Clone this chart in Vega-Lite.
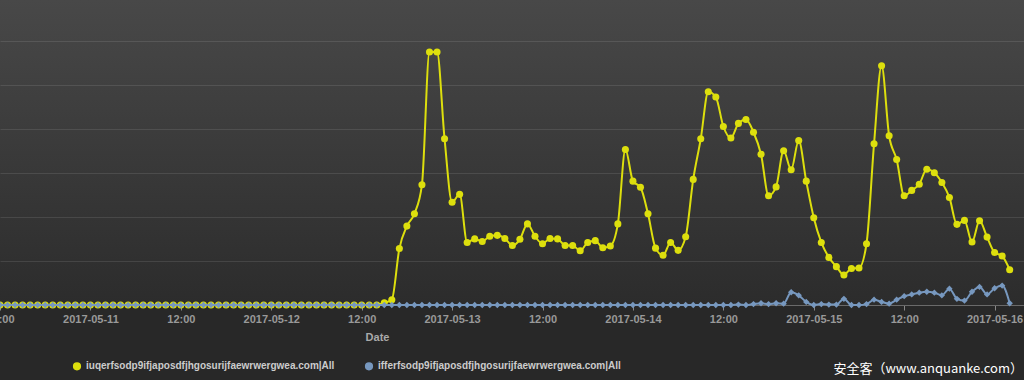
{
"$schema": "https://vega.github.io/schema/vega-lite/v6.json",
"width": 1024,
"height": 305,
"autosize": {"type": "none"},
"padding": {"left": 0, "top": 0, "right": 0, "bottom": 75},
"background": "#282828",
"config": {
  "view": {"stroke": null, "fill": {"gradient": "linear", "x1": 0, "y1": 0, "x2": 0, "y2": 1, "stops": [{"offset": 0, "color": "#484848"}, {"offset": 1, "color": "#2c2c2c"}]}}
},
"title": {"text": "安全客（www.anquanke.com）", "orient": "bottom", "anchor": "end", "font": "Noto Sans CJK SC", "fontSize": 13, "fontWeight": "normal", "color": "#ffffff", "offset": -10, "dx": -1},
"data": {"values": [
{"t":"2017-05-10T12:00Z","a":0,"b":0},{"t":"2017-05-10T13:00Z","a":0,"b":0},{"t":"2017-05-10T14:00Z","a":0,"b":0},{"t":"2017-05-10T15:00Z","a":0,"b":0},
{"t":"2017-05-10T16:00Z","a":0,"b":0},{"t":"2017-05-10T17:00Z","a":0,"b":0},{"t":"2017-05-10T18:00Z","a":0,"b":0},{"t":"2017-05-10T19:00Z","a":0,"b":0},
{"t":"2017-05-10T20:00Z","a":0,"b":0},{"t":"2017-05-10T21:00Z","a":0,"b":0},{"t":"2017-05-10T22:00Z","a":0,"b":0},{"t":"2017-05-10T23:00Z","a":0,"b":0},
{"t":"2017-05-11T00:00Z","a":0,"b":0},{"t":"2017-05-11T01:00Z","a":0,"b":0},{"t":"2017-05-11T02:00Z","a":0,"b":0},{"t":"2017-05-11T03:00Z","a":0,"b":0},
{"t":"2017-05-11T04:00Z","a":0,"b":0},{"t":"2017-05-11T05:00Z","a":0,"b":0},{"t":"2017-05-11T06:00Z","a":0,"b":0},{"t":"2017-05-11T07:00Z","a":0,"b":0},
{"t":"2017-05-11T08:00Z","a":0,"b":0},{"t":"2017-05-11T09:00Z","a":0,"b":0},{"t":"2017-05-11T10:00Z","a":0,"b":0},{"t":"2017-05-11T11:00Z","a":0,"b":0},
{"t":"2017-05-11T12:00Z","a":0,"b":0},{"t":"2017-05-11T13:00Z","a":0,"b":0},{"t":"2017-05-11T14:00Z","a":0,"b":0},{"t":"2017-05-11T15:00Z","a":0,"b":0},
{"t":"2017-05-11T16:00Z","a":0,"b":0},{"t":"2017-05-11T17:00Z","a":0,"b":0},{"t":"2017-05-11T18:00Z","a":0,"b":0},{"t":"2017-05-11T19:00Z","a":0,"b":0},
{"t":"2017-05-11T20:00Z","a":0,"b":0},{"t":"2017-05-11T21:00Z","a":0,"b":0},{"t":"2017-05-11T22:00Z","a":0,"b":0},{"t":"2017-05-11T23:00Z","a":0,"b":0},
{"t":"2017-05-12T00:00Z","a":0,"b":0},{"t":"2017-05-12T01:00Z","a":0,"b":0},{"t":"2017-05-12T02:00Z","a":0,"b":0},{"t":"2017-05-12T03:00Z","a":0,"b":0},
{"t":"2017-05-12T04:00Z","a":0,"b":0},{"t":"2017-05-12T05:00Z","a":0,"b":0},{"t":"2017-05-12T06:00Z","a":0,"b":0},{"t":"2017-05-12T07:00Z","a":0,"b":0},
{"t":"2017-05-12T08:00Z","a":0,"b":0},{"t":"2017-05-12T09:00Z","a":0,"b":0},{"t":"2017-05-12T10:00Z","a":0,"b":0},{"t":"2017-05-12T11:00Z","a":0,"b":0},
{"t":"2017-05-12T12:00Z","a":0,"b":0},{"t":"2017-05-12T13:00Z","a":0,"b":0},{"t":"2017-05-12T14:00Z","a":0,"b":0},{"t":"2017-05-12T15:00Z","a":0.5,"b":0},
{"t":"2017-05-12T16:00Z","a":1.2,"b":0},{"t":"2017-05-12T17:00Z","a":12.8,"b":0},{"t":"2017-05-12T18:00Z","a":17.9,"b":0},{"t":"2017-05-12T19:00Z","a":20.7,"b":0},
{"t":"2017-05-12T20:00Z","a":27.3,"b":0},{"t":"2017-05-12T21:00Z","a":57.4,"b":0},{"t":"2017-05-12T22:00Z","a":57.4,"b":0},{"t":"2017-05-12T23:00Z","a":37.7,"b":0},
{"t":"2017-05-13T00:00Z","a":23.3,"b":0},{"t":"2017-05-13T01:00Z","a":25.1,"b":0},{"t":"2017-05-13T02:00Z","a":14.2,"b":0},{"t":"2017-05-13T03:00Z","a":15.0,"b":0},
{"t":"2017-05-13T04:00Z","a":14.4,"b":0},{"t":"2017-05-13T05:00Z","a":15.6,"b":0},{"t":"2017-05-13T06:00Z","a":15.8,"b":0},{"t":"2017-05-13T07:00Z","a":15.1,"b":0},
{"t":"2017-05-13T08:00Z","a":13.5,"b":0},{"t":"2017-05-13T09:00Z","a":14.9,"b":0},{"t":"2017-05-13T10:00Z","a":18.4,"b":0},{"t":"2017-05-13T11:00Z","a":15.6,"b":0},
{"t":"2017-05-13T12:00Z","a":13.9,"b":0},{"t":"2017-05-13T13:00Z","a":15.1,"b":0},{"t":"2017-05-13T14:00Z","a":15.0,"b":0},{"t":"2017-05-13T15:00Z","a":13.5,"b":0},
{"t":"2017-05-13T16:00Z","a":13.5,"b":0},{"t":"2017-05-13T17:00Z","a":12.3,"b":0},{"t":"2017-05-13T18:00Z","a":14.2,"b":0},{"t":"2017-05-13T19:00Z","a":14.6,"b":0},
{"t":"2017-05-13T20:00Z","a":13.0,"b":0},{"t":"2017-05-13T21:00Z","a":13.4,"b":0},{"t":"2017-05-13T22:00Z","a":18.4,"b":0},{"t":"2017-05-13T23:00Z","a":35.3,"b":0},
{"t":"2017-05-14T00:00Z","a":28.1,"b":0},{"t":"2017-05-14T01:00Z","a":26.7,"b":0},{"t":"2017-05-14T02:00Z","a":20.7,"b":0},{"t":"2017-05-14T03:00Z","a":12.9,"b":0},
{"t":"2017-05-14T04:00Z","a":11.3,"b":0},{"t":"2017-05-14T05:00Z","a":14.2,"b":0},{"t":"2017-05-14T06:00Z","a":12.4,"b":0},{"t":"2017-05-14T07:00Z","a":15.5,"b":0},
{"t":"2017-05-14T08:00Z","a":28.5,"b":0},{"t":"2017-05-14T09:00Z","a":37.7,"b":0},{"t":"2017-05-14T10:00Z","a":48.4,"b":0},{"t":"2017-05-14T11:00Z","a":47.2,"b":0},
{"t":"2017-05-14T12:00Z","a":40.5,"b":0},{"t":"2017-05-14T13:00Z","a":37.9,"b":0},{"t":"2017-05-14T14:00Z","a":41.2,"b":0.1},{"t":"2017-05-14T15:00Z","a":42.1,"b":0},
{"t":"2017-05-14T16:00Z","a":39.2,"b":0.2},{"t":"2017-05-14T17:00Z","a":34.2,"b":0.4},{"t":"2017-05-14T18:00Z","a":24.8,"b":0.2},{"t":"2017-05-14T19:00Z","a":26.8,"b":0.4},
{"t":"2017-05-14T20:00Z","a":35.0,"b":0.3},{"t":"2017-05-14T21:00Z","a":30.7,"b":2.9},{"t":"2017-05-14T22:00Z","a":37.3,"b":2.2},{"t":"2017-05-14T23:00Z","a":28.1,"b":0.7},
{"t":"2017-05-15T00:00Z","a":19.8,"b":0},{"t":"2017-05-15T01:00Z","a":14.2,"b":0.2},{"t":"2017-05-15T02:00Z","a":10.8,"b":0.1},{"t":"2017-05-15T03:00Z","a":8.7,"b":0.1},
{"t":"2017-05-15T04:00Z","a":6.8,"b":1.4},{"t":"2017-05-15T05:00Z","a":8.3,"b":0},{"t":"2017-05-15T06:00Z","a":8.4,"b":0},{"t":"2017-05-15T07:00Z","a":13.9,"b":0.2},
{"t":"2017-05-15T08:00Z","a":36.6,"b":1.2},{"t":"2017-05-15T09:00Z","a":54.3,"b":0.7},{"t":"2017-05-15T10:00Z","a":38.4,"b":0.3},{"t":"2017-05-15T11:00Z","a":33.0,"b":1.2},
{"t":"2017-05-15T12:00Z","a":24.8,"b":2.0},{"t":"2017-05-15T13:00Z","a":26.0,"b":2.4},{"t":"2017-05-15T14:00Z","a":27.4,"b":2.8},{"t":"2017-05-15T15:00Z","a":30.8,"b":3.0},
{"t":"2017-05-15T16:00Z","a":30.0,"b":2.8},{"t":"2017-05-15T17:00Z","a":27.8,"b":2.2},{"t":"2017-05-15T18:00Z","a":24.4,"b":3.7},{"t":"2017-05-15T19:00Z","a":18.3,"b":1.4},
{"t":"2017-05-15T20:00Z","a":19.2,"b":1.0},{"t":"2017-05-15T21:00Z","a":14.3,"b":3.0},{"t":"2017-05-15T22:00Z","a":19.1,"b":4.1},{"t":"2017-05-15T23:00Z","a":15.4,"b":2.4},
{"t":"2017-05-16T00:00Z","a":11.9,"b":3.8},{"t":"2017-05-16T01:00Z","a":11.1,"b":4.4},{"t":"2017-05-16T02:00Z","a":8.0,"b":0.4}
]},
"transform": [{"fold": ["a", "b"], "as": ["s", "v"]}],
"encoding": {
  "x": {"field": "t", "type": "temporal",
    "scale": {"type": "utc", "domain": [1494417600000, 1494906840000]},
    "axis": {"values": [1494417600000, 1494460800000, 1494504000000, 1494547200000, 1494590400000, 1494633600000, 1494676800000, 1494720000000, 1494763200000, 1494806400000, 1494849600000, 1494892800000],
      "labelExpr": "utchours(datum.value) == 0 ? utcFormat(datum.value, '%Y-%m-%d') : utcFormat(datum.value, '%H:%M')",
      "labelFont": "Liberation Sans", "labelFontWeight": "bold", "labelFontSize": 11, "labelColor": "#999999", "labelFlush": false, "labelOverlap": false, "labelPadding": 3,
      "tickColor": "#888888", "tickSize": 5, "domainColor": "#6a6a6a", "grid": false,
      "title": "Date", "titleX": 377, "titleY": 26, "titleAlign": "center", "titleFont": "Liberation Sans", "titleFontWeight": "bold", "titleFontSize": 11, "titleColor": "#aaaaaa"}},
  "y": {"field": "v", "type": "quantitative", "scale": {"domain": [0, 69.2], "nice": false},
    "axis": {"values": [10, 20, 30, 40, 50, 60], "labels": false, "ticks": false, "domain": false, "title": null, "grid": true, "gridColor": "#ffffff", "gridOpacity": 0.1}},
  "color": {"field": "s", "type": "nominal", "scale": {"domain": ["a", "b"], "range": ["#DDDF0D", "#7798BF"]},
    "legend": {"orient": "none", "legendX": 72, "legendY": 361, "direction": "horizontal", "title": null, "columnPadding": 27, "symbolSize": 45,
      "labelExpr": "datum.label == 'a' ? 'iuqerfsodp9ifjaposdfjhgosurijfaewrwergwea.com|All' : 'ifferfsodp9ifjaposdfjhgosurijfaewrwergwea.com|All'",
      "labelColor": "#cccccc", "labelFont": "Liberation Sans", "labelFontSize": 10, "labelFontWeight": "bold", "labelLimit": 400}}
},
"layer": [
  {"transform": [{"filter": "datum.s == 'a'"}], "mark": {"type": "line", "strokeWidth": 2, "interpolate": "monotone"}, "encoding": {}},
  {"transform": [{"filter": "datum.s == 'a'"}], "mark": {"type": "point", "filled": true, "size": 50, "opacity": 1, "shape": "circle"}, "encoding": {}},
  {"transform": [{"filter": "datum.s == 'b'"}], "mark": {"type": "line", "strokeWidth": 2, "interpolate": "monotone"}, "encoding": {}},
  {"transform": [{"filter": "datum.s == 'b'"}], "mark": {"type": "point", "filled": true, "size": 40, "opacity": 1, "shape": "diamond"}, "encoding": {}}
]
}
